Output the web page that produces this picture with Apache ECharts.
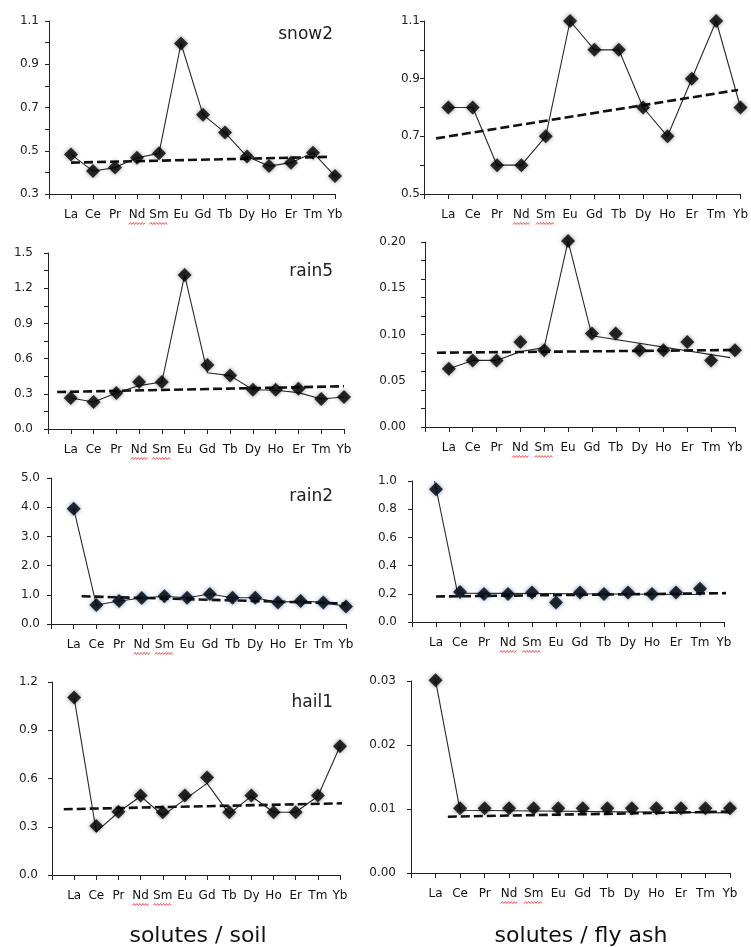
<!DOCTYPE html>
<html>
<head>
<meta charset="utf-8">
<script src="https://cdn.jsdelivr.net/npm/echarts@6/dist/echarts.min.js"></script>
<style>
html,body{margin:0;padding:0;background:#fff;}
#chart{width:751px;height:947px;}
</style>
</head>
<body>
<div id="chart"></div>
<script>
// ---------- data ----------
const categories = ['La','Ce','Pr','Nd','Sm','Eu','Gd','Tb','Dy','Ho','Er','Tm','Yb'];
const flaggedWords = ['Nd','Sm']; // words carrying the red spell-check underline

// solutes / soil
const snow2Soil = [0.483,0.406,0.422,0.468,0.488,0.996,0.667,0.584,0.473,0.429,0.445,0.491,0.383];
const snow2SoilTrend = [[1,0.445],[12.8,0.472]];
const rain5Soil = [0.264,0.230,0.307,0.400,0.400,1.312,0.546,0.455,0.335,0.335,0.344,0.256,0.273];
const rain5SoilLine = [[1,0.264],[2,0.230],[3,0.307],[4,0.37],[5,0.40],[6,1.312],[7,0.48],[8,0.455],[9,0.335],[10,0.33],[11,0.31],[12,0.256],[13,0.273]];
const rain5SoilTrend = [[0.4,0.315],[13,0.364]];
const rain2Soil = [3.95,0.65,0.79,0.89,0.95,0.90,1.03,0.90,0.90,0.74,0.79,0.74,0.60];
const rain2SoilTrend = [[1.35,0.95],[13,0.70]];
const hail1Soil = [1.104,0.305,0.394,0.494,0.390,0.494,0.606,0.390,0.494,0.390,0.390,0.494,0.800];
const hail1SoilLine = [[1,1.1],[2,0.27],[3,0.39],[4,0.49],[5,0.37],[6,0.47],[7,0.57],[8,0.38],[9,0.49],[10,0.39],[11,0.39],[12,0.49],[13,0.8]];
const hail1SoilTrend = [[0.53,0.409],[13.2,0.446]];

// solutes / fly ash
const snow2Ash = [0.8,0.8,0.6,0.6,0.7,1.1,1.0,1.0,0.8,0.7,0.9,1.1,0.8];
const snow2AshTrend = [[0.5,0.693],[12.9,0.861]];
const rain5Ash = [0.063,0.072,0.072,0.092,0.083,0.201,0.101,0.101,0.083,0.083,0.092,0.072,0.083];
const rain5AshLine = [[1,0.063],[2,0.072],[3,0.072],[4,0.0815],[5,0.086],[6,0.201],[7,0.0987],[12.8,0.075]];
const rain5AshTrend = [[0.5,0.0803],[12.9,0.0832]];
const rain2Ash = [0.941,0.212,0.198,0.198,0.209,0.139,0.209,0.198,0.209,0.198,0.209,0.235,null];
const rain2AshLine = [[0.94,1.0],[1.9,0.205],[12,0.195]];
const rain2AshTrend = [[1,0.181],[13.25,0.205]];
const hail1Ash = [0.0301,0.0101,0.0101,0.0101,0.0101,0.0101,0.0101,0.0101,0.0101,0.0101,0.0101,0.0101,0.0101];
const hail1AshLine = [[1,0.0301],[2,0.0098],[13,0.0094]];
const hail1AshTrend = [[1.5,0.0088],[13,0.0096]];

// y-axis ticks and labels
const snow2SoilTicks = [0.3,0.4,0.5,0.6,0.7,0.8,0.9,1.0,1.1];
const snow2SoilLabels = [0.3,0.5,0.7,0.9,1.1];
const snow2AshTicks = [0.5,0.6,0.7,0.8,0.9,1.0,1.1];
const snow2AshLabels = [0.5,0.7,0.9,1.1];
const rain5SoilTicks = [0,0.15,0.3,0.45,0.6,0.75,0.9,1.05,1.2,1.35,1.5];
const rain5SoilLabels = [0,0.3,0.6,0.9,1.2,1.5];
const rain5AshTicks = [0,0.02,0.04,0.06,0.08,0.10,0.12,0.14,0.16,0.18,0.20];
const rain5AshLabels = [0,0.05,0.10,0.15,0.20];
const rain2SoilTicks = [0,1,2,3,4,5];
const rain2AshTicks = [0,0.2,0.4,0.6,0.8,1.0];
const hail1SoilTicks = [0,0.3,0.6,0.9,1.2];
const hail1AshTicks = [0,0.01,0.02,0.03];

const titles = ['snow2','rain5','rain2','hail1'];
const columnTitles = ['solutes / soil','solutes / fly ash'];

// ---------- layout ----------
const FONT = 'DejaVu Sans';
const LABEL_SIZE = 12, LABEL_MARGIN = 15;
const panels = [
  {g:{left:49,top:21,width:286,height:173}, m:snow2Soil, l:null, t:snow2SoilTrend, min:0.3, max:1.1, ticks:snow2SoilTicks, labels:snow2SoilLabels, dec:1, lm:10, glow:'rgba(0,0,0,0.55)'},
  {g:{left:424,top:21,width:320,height:173}, m:snow2Ash, l:null, t:snow2AshTrend, min:0.5, max:1.1, ticks:snow2AshTicks, labels:snow2AshLabels, dec:1, lm:4, glow:'rgba(0,0,0,0.55)'},
  {g:{left:48,top:253,width:296,height:176}, m:rain5Soil, l:rain5SoilLine, t:rain5SoilTrend, min:0, max:1.5, ticks:rain5SoilTicks, labels:rain5SoilLabels, dec:1, lm:15, glow:'rgba(0,0,0,0.55)'},
  {g:{left:425,top:242,width:310,height:185}, m:rain5Ash, l:rain5AshLine, t:rain5AshTrend, min:0, max:0.2, ticks:rain5AshTicks, labels:rain5AshLabels, dec:2, lm:19, glow:'rgba(0,0,0,0.55)'},
  {g:{left:51,top:478,width:295,height:146}, m:rain2Soil, l:null, t:rain2SoilTrend, min:0, max:5, ticks:rain2SoilTicks, labels:rain2SoilTicks, dec:1, lm:11, glow:'rgba(40,90,170,0.8)'},
  {g:{left:412,top:481,width:312,height:141}, m:rain2Ash, l:rain2AshLine, t:rain2AshTrend, min:0, max:1.0, ticks:rain2AshTicks, labels:rain2AshTicks, dec:1, lm:15, glow:'rgba(40,90,170,0.8)'},
  {g:{left:52,top:682,width:288,height:193}, m:hail1Soil, l:hail1SoilLine, t:hail1SoilTrend, min:0, max:1.2, ticks:hail1SoilTicks, labels:hail1SoilTicks, dec:1, lm:14, glow:'rgba(0,0,0,0.55)'},
  {g:{left:411,top:681,width:319,height:192}, m:hail1Ash, l:hail1AshLine, t:hail1AshTrend, min:0, max:0.03, ticks:hail1AshTicks, labels:hail1AshTicks, dec:2, lm:15, glow:'rgba(0,0,0,0.55)'}
];
const titlePos = [[333,35],[333,272],[333,497],[333,703]];
const colTitlePos = [[198,936],[581,936]];

const grid = [], xAxis = [], yAxis = [], series = [];
panels.forEach((p, i) => {
  grid.push(p.g);
  xAxis.push({
    type:'value', gridIndex:i, min:0, max:13, interval:1,
    axisLine:{lineStyle:{color:'#222',width:1}},
    axisTick:{show:true,length:5,lineStyle:{color:'#222'}},
    splitLine:{show:false},
    axisLabel:{margin:LABEL_MARGIN,fontFamily:FONT,fontSize:LABEL_SIZE,color:'#111',
      formatter:v => categories[Math.round(v)-1] || ''}
  });
  yAxis.push({
    type:'value', gridIndex:i, min:p.min, max:p.max,
    axisLine:{show:true,lineStyle:{color:'#222',width:1}},
    axisTick:{show:true,length:4,lineStyle:{color:'#222'},customValues:p.ticks},
    splitLine:{show:false},
    axisLabel:{margin:p.lm,fontFamily:FONT,fontSize:12,color:'#222',customValues:p.labels,
      formatter:v => Number(v).toFixed(p.dec)}
  });
  const pts = [];
  p.m.forEach((v, k) => { if (v !== null) pts.push([k+1, v]); });
  series.push({
    type:'line', xAxisIndex:i, yAxisIndex:i, data: p.l ? p.l : pts,
    symbol:'none', silent:true, clip:false,
    lineStyle:{color:'#2a2a2a',width:1.1}, z:2
  });
  series.push({
    type:'line', xAxisIndex:i, yAxisIndex:i, data:p.t,
    symbol:'none', silent:true, clip:false,
    lineStyle:{color:'#111',width:2.6,type:[9,4]}, z:3
  });
  series.push({
    type:'scatter', xAxisIndex:i, yAxisIndex:i, data:pts, clip:false,
    symbol:'diamond', symbolSize:[14,14], silent:true,
    itemStyle:{color:'#000',shadowBlur:4,shadowColor:p.glow}, z:4
  });
});

const graphic = [];
titles.forEach((t, k) => {
  graphic.push({type:'text', x:titlePos[k][0], y:titlePos[k][1],
    style:{text:t, fontFamily:FONT, fontSize:17, fill:'#222', align:'right', verticalAlign:'middle'}});
});
columnTitles.forEach((t, k) => {
  graphic.push({type:'text', x:colTitlePos[k][0], y:colTitlePos[k][1],
    style:{text:t, fontFamily:FONT, fontSize:22, fill:'#111', align:'center', verticalAlign:'middle'}});
});

const chart = echarts.init(document.getElementById('chart'), null, {renderer:'canvas'});
chart.setOption({
  animation:false,
  backgroundColor:'#fff',
  grid, xAxis, yAxis, series, graphic
});

// red wavy spell-check underline beneath flagged category labels, positioned from the axes
const squiggles = [];
const measure = (txt) => echarts.format.getTextRect ? null : null;
const ctx = document.createElement('canvas').getContext('2d');
ctx.font = LABEL_SIZE + 'px "' + FONT + '"';
panels.forEach((p, i) => {
  flaggedWords.forEach(w => {
    const idx = categories.indexOf(w) + 1;
    const pt = chart.convertToPixel({xAxisIndex:i, yAxisIndex:i}, [idx, p.min]);
    const wdt = ctx.measureText(w).width;
    const x0 = pt[0] - wdt/2, y0 = pt[1] + LABEL_MARGIN + LABEL_SIZE + 2.5;
    const pts = [];
    for (let x = 0, k = 0; x <= wdt + 0.1; x += 1.5, k++) pts.push([x0 + x, y0 + (k % 2 ? -1 : 1)]);
    squiggles.push({type:'polyline', silent:true, shape:{points:pts},
      style:{stroke:'rgba(235,60,60,0.85)', lineWidth:1, fill:null}});
  });
});
chart.setOption({graphic: graphic.concat(squiggles)});
</script>
</body>
</html>
